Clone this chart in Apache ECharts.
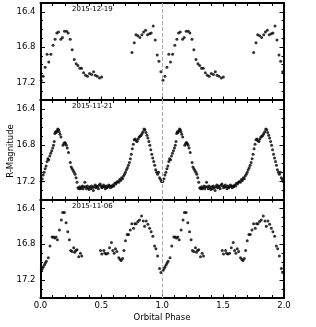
<!DOCTYPE html>
<html><head><meta charset="utf-8">
<script src="https://cdn.jsdelivr.net/npm/echarts@6/dist/echarts.min.js"></script>
<style>html,body{margin:0;padding:0;background:#fff}#c{width:316px;height:327px}</style>
</head><body><div id="c"></div>
<script>
// Panel labels (observation dates)
const dates = ['2015-12-19', '2015-11-21', '2015-11-06'];
const xTicks = [0, 0.5, 1, 1.5, 2];
const yTicks = [16.4, 16.8, 17.2];
const xLabel = 'Orbital Phase';
const yLabel = 'R-Magnitude';

// 2015-12-19 (one cycle; plotted at phase and phase+1)
const p1Phase = [0.006,0.022,0.038,0.054,0.068,0.085,0.103,0.120,0.134,0.148,
  0.167,0.180,0.197,0.214,0.227,0.244,0.260,0.277,0.293,0.307,
  0.323,0.337,0.354,0.370,0.386,0.403,0.420,0.436,0.450,0.466,
  0.485,0.502,
  0.751,0.770,0.784,0.800,0.816,0.833,0.847,0.863,0.879,0.896,
  0.909,0.926,0.942,0.959,0.973,0.989];
const p1Mag = [17.175,17.13,17.03,16.88,16.97,16.88,16.78,16.71,16.64,16.63,
  16.71,16.69,16.62,16.62,16.64,16.71,16.83,16.94,16.99,17.01,
  17.04,17.04,17.09,17.12,17.13,17.10,17.11,17.08,17.12,17.13,
  17.15,17.14,
  16.86,16.75,16.66,16.67,16.69,16.66,16.63,16.61,16.66,16.65,
  16.64,16.56,16.72,16.89,16.96,17.08];

// 2015-11-21
const p2Phase = [0.005,0.014,0.022,0.030,0.038,0.046,0.054,0.060,0.068,0.076,
  0.084,0.092,0.100,0.107,0.113,0.118,0.124,0.130,0.136,0.142,
  0.148,0.154,0.160,0.168,0.185,0.192,0.199,0.206,0.213,0.220,
  0.230,0.245,0.252,0.260,0.268,0.276,0.284,0.292,0.300,0.308,
  0.315,0.322,0.329,0.336,0.343,0.350,0.357,0.364,0.371,0.378,
  0.385,0.392,0.399,0.406,0.413,0.420,0.427,0.434,0.441,0.448,
  0.455,0.462,0.469,0.476,0.483,0.490,0.497,0.504,0.511,0.518,
  0.525,0.532,0.539,0.546,0.553,0.560,0.567,0.574,0.581,0.588,
  0.595,0.602,0.610,0.618,0.626,0.634,0.642,0.650,0.658,0.666,
  0.674,0.682,0.690,0.698,0.706,0.714,0.722,0.730,0.738,0.746,
  0.754,0.762,0.770,0.778,0.786,0.794,0.802,0.810,0.818,0.826,
  0.834,0.842,0.850,0.858,0.866,0.874,0.882,0.890,0.898,0.906,
  0.914,0.922,0.930,0.938,0.946,0.954,0.962,0.970,0.978,0.986,
  0.994];
const p2Mag = [17.20,17.17,17.13,17.10,17.06,17.03,16.98,16.95,16.96,16.92,
  16.89,16.86,16.83,16.80,16.76,16.67,16.65,16.66,16.64,16.62,
  16.63,16.65,16.68,16.71,16.80,16.78,16.77,16.78,16.80,16.83,
  16.88,16.99,17.04,17.06,17.08,17.10,17.12,17.16,17.21,17.27,
  17.28,17.26,17.28,17.27,17.25,17.28,17.26,17.21,17.26,17.28,
  17.25,17.27,17.29,17.26,17.28,17.25,17.27,17.30,17.26,17.24,
  17.27,17.25,17.26,17.28,17.24,17.23,17.25,17.27,17.26,17.24,
  17.26,17.28,17.25,17.27,17.26,17.24,17.25,17.27,17.25,17.26,
  17.24,17.25,17.22,17.23,17.21,17.20,17.21,17.18,17.19,17.16,
  17.17,17.14,17.12,17.10,17.07,17.05,17.02,16.99,16.95,16.90,
  16.84,16.79,16.74,16.73,16.75,16.76,16.73,16.71,16.70,16.69,
  16.67,16.65,16.62,16.63,16.66,16.69,16.72,16.76,16.80,16.85,
  16.90,16.94,16.98,17.02,17.07,17.10,17.12,17.10,17.16,17.18,
  17.20];

// 2015-11-06
const p3Phase = [0.007,0.015,0.023,0.032,0.040,0.048,0.064,0.078,0.095,0.106,
  0.117,0.128,0.139,0.155,0.171,0.182,0.196,0.210,0.224,0.237,
  0.248,0.259,0.273,0.281,0.290,0.300,0.314,0.328,0.339,
  0.493,0.503,0.520,0.528,0.540,0.553,0.567,0.583,0.594,0.605,
  0.616,0.627,0.643,0.654,0.663,0.674,0.685,0.698,0.712,0.723,
  0.737,0.750,0.764,0.775,0.786,0.800,0.813,0.830,0.844,0.855,
  0.868,0.882,0.896,0.909,0.923,0.937,0.948,0.962,0.978,0.989];
const p3Mag = [17.09,17.07,17.05,17.03,17.01,16.99,16.95,16.82,16.72,16.72,
  16.73,16.72,16.75,16.64,16.53,16.445,16.445,16.56,16.66,16.75,
  16.87,16.88,16.84,16.89,16.87,16.86,16.94,16.90,16.93,
  16.87,16.91,16.87,16.90,16.91,16.90,16.84,16.78,16.87,16.90,
  16.85,16.88,16.95,16.97,16.98,16.96,16.87,16.76,16.69,16.69,
  16.64,16.57,16.62,16.57,16.57,16.545,16.53,16.485,16.54,16.60,
  16.54,16.575,16.62,16.66,16.71,16.82,16.85,16.93,17.07,17.115];

const panels = [[p1Phase, p1Mag], [p2Phase, p2Mag], [p3Phase, p3Mag]];
const gridPos = [{top: 3, height: 97}, {top: 100, height: 99.5}, {top: 199.5, height: 98.5}];
const FONT = 'DejaVu Sans';
const LEFT = 40.5, RIGHT = 32;
const YMIN = 16.3, YMAX = 17.4;

const grid = [], xAxis = [], yAxis = [], series = [], graphic = [];
const axisLine = {show: true, lineStyle: {color: '#000', width: 2}};

panels.forEach((pd, i) => {
  grid.push({left: LEFT, right: RIGHT, top: gridPos[i].top, height: gridPos[i].height, containLabel: false});
  ['bottom', 'top'].forEach(pos => {
    xAxis.push({
      type: 'value', gridIndex: i, position: pos, min: 0, max: 2, interval: 0.5,
      axisLine: axisLine,
      axisTick: {show: true, inside: true, length: 3.5, lineStyle: {color: '#000', width: 1}},
      minorTick: {show: true, splitNumber: 5, length: 3, lineStyle: {color: '#000', width: 1}},
      splitLine: {show: false}, minorSplitLine: {show: false},
      axisLabel: {show: pos === 'bottom' && i === 2, color: '#000', fontFamily: FONT, fontSize: 8.5, margin: 3,
        customValues: xTicks, formatter: v => v.toFixed(1)}
    });
  });
  ['left', 'right'].forEach(pos => {
    yAxis.push({
      type: 'value', gridIndex: i, position: pos, min: YMIN, max: YMAX, inverse: true,
      axisLine: axisLine,
      axisTick: {show: true, inside: true, length: 4.5, customValues: yTicks, lineStyle: {color: '#000', width: 1}},
      splitLine: {show: false},
      axisLabel: {show: pos === 'left', customValues: yTicks, color: '#000', fontFamily: FONT, fontSize: 8.5, margin: 5,
        formatter: v => v.toFixed(1)}
    });
    yAxis.push({
      type: 'value', gridIndex: i, position: pos, min: YMIN, max: YMAX, interval: 0.1, inverse: true,
      axisLine: {show: false},
      axisTick: {show: true, inside: true, length: 2.5, lineStyle: {color: '#000', width: 1}},
      splitLine: {show: false},
      axisLabel: {show: false}
    });
  });
  const [ph, mg] = pd;
  const data = [];
  for (let c = 0; c < 2; c++) ph.forEach((p, k) => data.push([p + c, mg[k]]));
  series.push({
    type: 'scatter', xAxisIndex: 2 * i, yAxisIndex: 4 * i, data: data,
    symbol: 'circle', symbolSize: 3, itemStyle: {color: '#000'}, silent: true,
    markLine: {silent: true, symbol: 'none', label: {show: false},
      lineStyle: {type: [4, 2], color: '#aaaaaa', width: 1},
      data: [{xAxis: 1}]}
  });
  graphic.push({type: 'text', left: 72, top: gridPos[i].top + 3,
    style: {text: dates[i], font: '7px "DejaVu Sans"', fill: '#000'}});
});

graphic.push({type: 'text', x: 11, y: 151, rotation: Math.PI / 2,
  style: {text: yLabel, font: '8.5px "DejaVu Sans"', fill: '#000', align: 'center', verticalAlign: 'middle'}});
graphic.push({type: 'text', x: 162, y: 318,
  style: {text: xLabel, font: '8.5px "DejaVu Sans"', fill: '#000', align: 'center', verticalAlign: 'middle'}});

const chart = echarts.init(document.getElementById('c'), null, {renderer: 'canvas'});
chart.setOption({animation: false, backgroundColor: '#fff', grid, xAxis, yAxis, series, graphic});
</script></body></html>
